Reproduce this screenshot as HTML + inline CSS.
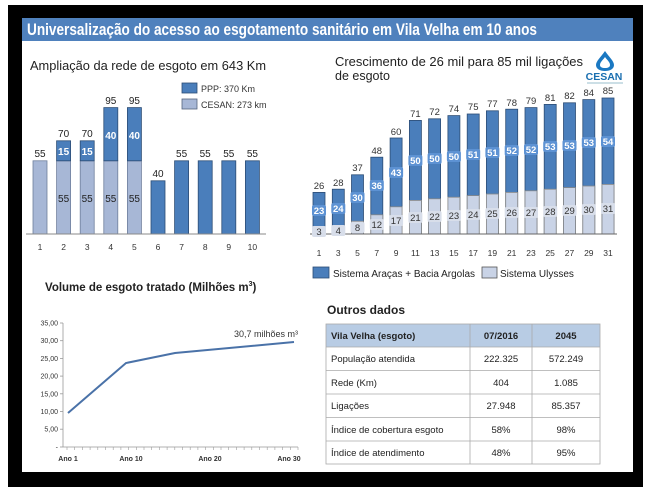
<!DOCTYPE html>
<html><head><meta charset="utf-8"><style>
html,body{margin:0;padding:0;background:#fff;width:653px;height:502px;overflow:hidden}
svg{display:block;font-family:"Liberation Sans",Arial,sans-serif}
</style></head><body>
<svg width="653" height="502" viewBox="0 0 653 502" xmlns="http://www.w3.org/2000/svg">
<rect x="8" y="5" width="635" height="482" fill="#000"/>
<rect x="22" y="18" width="611" height="454" fill="#fff"/>
<rect x="22" y="18" width="611" height="23" fill="#4f81bd"/>
<text x="27" y="35" font-size="17" font-weight="bold" fill="#fff" textLength="510" lengthAdjust="spacingAndGlyphs">Universalização do acesso ao esgotamento sanitário em Vila Velha em 10 anos</text>

<!-- Left chart -->
<text x="30" y="70" font-size="12.5" fill="#222" textLength="236" lengthAdjust="spacingAndGlyphs">Ampliação da rede de esgoto em 643 Km</text>
<rect x="182" y="83" width="15" height="10" fill="#4a7ebb" stroke="#2c4d75" stroke-width="0.8"/>
<text x="201" y="92" font-size="9" fill="#333">PPP: 370 Km</text>
<rect x="182" y="99" width="15" height="10" fill="#a7b7d6" stroke="#56657e" stroke-width="0.8"/>
<text x="201" y="108" font-size="9" fill="#333">CESAN: 273 km</text>
<g stroke-width="0.8">
<rect x="33" y="160.8" width="14" height="73.2" fill="#a7b7d6" stroke="#6f7f9c"/>
<rect x="56.6" y="160.8" width="14" height="73.2" fill="#a7b7d6" stroke="#6f7f9c"/><rect x="56.6" y="140.8" width="14" height="20" fill="#4a7ebb" stroke="#2c4d75"/>
<rect x="80.2" y="160.8" width="14" height="73.2" fill="#a7b7d6" stroke="#6f7f9c"/><rect x="80.2" y="140.8" width="14" height="20" fill="#4a7ebb" stroke="#2c4d75"/>
<rect x="103.8" y="160.8" width="14" height="73.2" fill="#a7b7d6" stroke="#6f7f9c"/><rect x="103.8" y="107.6" width="14" height="53.2" fill="#4a7ebb" stroke="#2c4d75"/>
<rect x="127.4" y="160.8" width="14" height="73.2" fill="#a7b7d6" stroke="#6f7f9c"/><rect x="127.4" y="107.6" width="14" height="53.2" fill="#4a7ebb" stroke="#2c4d75"/>
<rect x="151" y="180.8" width="14" height="53.2" fill="#4a7ebb" stroke="#2c4d75"/>
<rect x="174.6" y="160.8" width="14" height="73.2" fill="#4a7ebb" stroke="#2c4d75"/>
<rect x="198.2" y="160.8" width="14" height="73.2" fill="#4a7ebb" stroke="#2c4d75"/>
<rect x="221.8" y="160.8" width="14" height="73.2" fill="#4a7ebb" stroke="#2c4d75"/>
<rect x="245.4" y="160.8" width="14" height="73.2" fill="#4a7ebb" stroke="#2c4d75"/>
</g>
<line x1="26" y1="234" x2="266" y2="234" stroke="#888" stroke-width="1"/>
<g font-size="10" fill="#222" text-anchor="middle">
<text x="40" y="157">55</text><text x="63.6" y="137">70</text><text x="87.2" y="137">70</text><text x="110.8" y="104">95</text><text x="134.4" y="104">95</text>
<text x="158" y="177">40</text><text x="181.6" y="157">55</text><text x="205.2" y="157">55</text><text x="228.8" y="157">55</text><text x="252.4" y="157">55</text>
<text x="63.6" y="202">55</text><text x="87.2" y="202">55</text><text x="110.8" y="202">55</text><text x="134.4" y="202">55</text>
</g>
<g font-size="10" fill="#fff" text-anchor="middle" font-weight="bold">
<text x="63.6" y="155">15</text><text x="87.2" y="155">15</text><text x="110.8" y="139">40</text><text x="134.4" y="139">40</text>
</g>
<g font-size="8.5" fill="#333" text-anchor="middle">
<text x="40" y="250">1</text><text x="63.6" y="250">2</text><text x="87.2" y="250">3</text><text x="110.8" y="250">4</text><text x="134.4" y="250">5</text><text x="158" y="250">6</text><text x="181.6" y="250">7</text><text x="205.2" y="250">8</text><text x="228.8" y="250">9</text><text x="252.4" y="250">10</text>
</g>

<!-- Right chart -->
<text x="335" y="66" font-size="12.5" fill="#222" textLength="248" lengthAdjust="spacingAndGlyphs">Crescimento de 26 mil para 85 mil ligações</text>
<text x="335" y="80" font-size="12.5" fill="#222">de esgoto</text>
<path d="M605 51 C609 57 614 61 614 65 C614 69 610 71 605 71 C600 71 596 69 596 65 C596 61 601 57 605 51 Z" fill="#1a78c2"/>
<path d="M605 57 C607 60 610 62 610 65 C610 67 608 68 605 68 C602 68 600 67 600 65 C600 62 603 60 605 57 Z" fill="#fff"/>
<text x="604" y="80" font-size="10.5" font-weight="bold" fill="#1a6fb0" text-anchor="middle">CESAN</text>
<line x1="587" y1="83" x2="623" y2="83" stroke="#7ab" stroke-width="0.8"/>
<g id="rb" stroke-width="0.8" font-size="9.5" text-anchor="middle">
</g>
<g stroke-width="0.8">
<g transform="translate(319,0)"><rect x="-6" y="192.4" width="12" height="41.6" fill="#4a7ebb" stroke="#2c4d75"/><rect x="-6" y="229.2" width="12" height="4.8" fill="#c9d3e6" stroke="#888"/></g>
<g transform="translate(338.3,0)"><rect x="-6" y="189.2" width="12" height="44.8" fill="#4a7ebb" stroke="#2c4d75"/><rect x="-6" y="227.6" width="12" height="6.4" fill="#c9d3e6" stroke="#888"/></g>
<g transform="translate(357.5,0)"><rect x="-6" y="174.8" width="12" height="59.2" fill="#4a7ebb" stroke="#2c4d75"/><rect x="-6" y="221.2" width="12" height="12.8" fill="#c9d3e6" stroke="#888"/></g>
<g transform="translate(376.8,0)"><rect x="-6" y="157.2" width="12" height="76.8" fill="#4a7ebb" stroke="#2c4d75"/><rect x="-6" y="214.8" width="12" height="19.2" fill="#c9d3e6" stroke="#888"/></g>
<g transform="translate(396.1,0)"><rect x="-6" y="138" width="12" height="96" fill="#4a7ebb" stroke="#2c4d75"/><rect x="-6" y="206.8" width="12" height="27.2" fill="#c9d3e6" stroke="#888"/></g>
<g transform="translate(415.4,0)"><rect x="-6" y="120.4" width="12" height="113.6" fill="#4a7ebb" stroke="#2c4d75"/><rect x="-6" y="200.4" width="12" height="33.6" fill="#c9d3e6" stroke="#888"/></g>
<g transform="translate(434.6,0)"><rect x="-6" y="118.8" width="12" height="115.2" fill="#4a7ebb" stroke="#2c4d75"/><rect x="-6" y="198.8" width="12" height="35.2" fill="#c9d3e6" stroke="#888"/></g>
<g transform="translate(453.9,0)"><rect x="-6" y="115.6" width="12" height="118.4" fill="#4a7ebb" stroke="#2c4d75"/><rect x="-6" y="197.2" width="12" height="36.8" fill="#c9d3e6" stroke="#888"/></g>
<g transform="translate(473.2,0)"><rect x="-6" y="114" width="12" height="120" fill="#4a7ebb" stroke="#2c4d75"/><rect x="-6" y="195.6" width="12" height="38.4" fill="#c9d3e6" stroke="#888"/></g>
<g transform="translate(492.4,0)"><rect x="-6" y="110.8" width="12" height="123.2" fill="#4a7ebb" stroke="#2c4d75"/><rect x="-6" y="194" width="12" height="40" fill="#c9d3e6" stroke="#888"/></g>
<g transform="translate(511.7,0)"><rect x="-6" y="109.2" width="12" height="124.8" fill="#4a7ebb" stroke="#2c4d75"/><rect x="-6" y="192.4" width="12" height="41.6" fill="#c9d3e6" stroke="#888"/></g>
<g transform="translate(531,0)"><rect x="-6" y="107.6" width="12" height="126.4" fill="#4a7ebb" stroke="#2c4d75"/><rect x="-6" y="190.8" width="12" height="43.2" fill="#c9d3e6" stroke="#888"/></g>
<g transform="translate(550.2,0)"><rect x="-6" y="104.4" width="12" height="129.6" fill="#4a7ebb" stroke="#2c4d75"/><rect x="-6" y="189.2" width="12" height="44.8" fill="#c9d3e6" stroke="#888"/></g>
<g transform="translate(569.5,0)"><rect x="-6" y="102.8" width="12" height="131.2" fill="#4a7ebb" stroke="#2c4d75"/><rect x="-6" y="187.6" width="12" height="46.4" fill="#c9d3e6" stroke="#888"/></g>
<g transform="translate(588.8,0)"><rect x="-6" y="99.6" width="12" height="134.4" fill="#4a7ebb" stroke="#2c4d75"/><rect x="-6" y="186" width="12" height="48" fill="#c9d3e6" stroke="#888"/></g>
<g transform="translate(608,0)"><rect x="-6" y="98" width="12" height="136" fill="#4a7ebb" stroke="#2c4d75"/><rect x="-6" y="184.4" width="12" height="49.6" fill="#c9d3e6" stroke="#888"/></g>
</g>
<line x1="310" y1="234" x2="617" y2="234" stroke="#666" stroke-width="1"/>
<!-- dark label boxes -->
<g fill="#5d92d3">
<rect x="312" y="205" width="14" height="11" rx="2"/><rect x="331.3" y="203" width="14" height="11" rx="2"/><rect x="350.5" y="192" width="14" height="11" rx="2"/><rect x="369.8" y="180" width="14" height="11" rx="2"/><rect x="389.1" y="167" width="14" height="11" rx="2"/>
<rect x="408.4" y="155" width="14" height="11" rx="2"/><rect x="427.6" y="153" width="14" height="11" rx="2"/><rect x="446.9" y="151" width="14" height="11" rx="2"/><rect x="466.2" y="149" width="14" height="11" rx="2"/><rect x="485.4" y="147" width="14" height="11" rx="2"/>
<rect x="504.7" y="145" width="14" height="11" rx="2"/><rect x="524" y="144" width="14" height="11" rx="2"/><rect x="543.2" y="141" width="14" height="11" rx="2"/><rect x="562.5" y="140" width="14" height="11" rx="2"/><rect x="581.8" y="137" width="14" height="11" rx="2"/><rect x="601" y="136" width="14" height="11" rx="2"/>
</g>
<g font-size="9.5" fill="#fff" text-anchor="middle" font-weight="bold">
<text x="319" y="214">23</text><text x="338.3" y="212">24</text><text x="357.5" y="201">30</text><text x="376.8" y="189">36</text><text x="396.1" y="176">43</text>
<text x="415.4" y="164">50</text><text x="434.6" y="162">50</text><text x="453.9" y="160">50</text><text x="473.2" y="158">51</text><text x="492.4" y="156">51</text>
<text x="511.7" y="154">52</text><text x="531" y="153">52</text><text x="550.2" y="150">53</text><text x="569.5" y="149">53</text><text x="588.8" y="146">53</text><text x="608" y="145">54</text>
</g>
<g fill="#d8deea">
<rect x="312" y="226" width="14" height="11" rx="2"/><rect x="331.3" y="225" width="14" height="11" rx="2"/><rect x="350.5" y="222" width="14" height="11" rx="2"/><rect x="369.8" y="219" width="14" height="11" rx="2"/><rect x="389.1" y="215" width="14" height="11" rx="2"/>
<rect x="408.4" y="212" width="14" height="11" rx="2"/><rect x="427.6" y="211" width="14" height="11" rx="2"/><rect x="446.9" y="210" width="14" height="11" rx="2"/><rect x="466.2" y="209" width="14" height="11" rx="2"/><rect x="485.4" y="208" width="14" height="11" rx="2"/>
<rect x="504.7" y="207" width="14" height="11" rx="2"/><rect x="524" y="207" width="14" height="11" rx="2"/><rect x="543.2" y="206" width="14" height="11" rx="2"/><rect x="562.5" y="205" width="14" height="11" rx="2"/><rect x="581.8" y="204" width="14" height="11" rx="2"/><rect x="601" y="203" width="14" height="11" rx="2"/>
</g>
<g font-size="9.5" fill="#333" text-anchor="middle">
<text x="319" y="235">3</text><text x="338.3" y="234">4</text><text x="357.5" y="231">8</text><text x="376.8" y="228">12</text><text x="396.1" y="224">17</text>
<text x="415.4" y="221">21</text><text x="434.6" y="220">22</text><text x="453.9" y="219">23</text><text x="473.2" y="218">24</text><text x="492.4" y="217">25</text>
<text x="511.7" y="216">26</text><text x="531" y="216">27</text><text x="550.2" y="215">28</text><text x="569.5" y="214">29</text><text x="588.8" y="213">30</text><text x="608" y="212">31</text>
</g>
<g font-size="9.5" fill="#333" text-anchor="middle">
<text x="319" y="189">26</text><text x="338.3" y="186">28</text><text x="357.5" y="171">37</text><text x="376.8" y="154">48</text><text x="396.1" y="135">60</text>
<text x="415.4" y="117">71</text><text x="434.6" y="115">72</text><text x="453.9" y="112">74</text><text x="473.2" y="110">75</text><text x="492.4" y="107">77</text>
<text x="511.7" y="106">78</text><text x="531" y="104">79</text><text x="550.2" y="101">81</text><text x="569.5" y="99">82</text><text x="588.8" y="96">84</text><text x="608" y="94">85</text>
</g>
<g font-size="8.5" fill="#333" text-anchor="middle">
<text x="319" y="256">1</text><text x="338.3" y="256">3</text><text x="357.5" y="256">5</text><text x="376.8" y="256">7</text><text x="396.1" y="256">9</text><text x="415.4" y="256">11</text><text x="434.6" y="256">13</text><text x="453.9" y="256">15</text><text x="473.2" y="256">17</text><text x="492.4" y="256">19</text><text x="511.7" y="256">21</text><text x="531" y="256">23</text><text x="550.2" y="256">25</text><text x="569.5" y="256">27</text><text x="588.8" y="256">29</text><text x="608" y="256">31</text>
</g>
<rect x="313" y="267" width="16" height="11" fill="#4a7ebb" stroke="#2c4d75" stroke-width="0.8"/>
<text x="333" y="277" font-size="10" fill="#222">Sistema Araças + Bacia Argolas</text>
<rect x="482" y="267" width="15" height="11" fill="#c9d3e6" stroke="#555" stroke-width="0.8"/>
<text x="500" y="277" font-size="10" fill="#222">Sistema Ulysses</text>

<!-- Line chart -->
<text x="45" y="291" font-size="11.5" font-weight="bold" fill="#222">Volume de esgoto tratado (Milhões m<tspan font-size="7" dy="-5">3</tspan><tspan dy="5">)</tspan></text>
<g font-size="7" fill="#333" text-anchor="end">
<text x="58" y="325.5">35,00</text><text x="58" y="343.2">30,00</text><text x="58" y="360.9">25,00</text><text x="58" y="378.6">20,00</text><text x="58" y="396.3">15,00</text><text x="58" y="414">10,00</text><text x="58" y="431.7">5,00</text><text x="58" y="449.5">-</text>
</g>
<g stroke="#999" stroke-width="0.8">
<line x1="63" y1="323" x2="63" y2="447"/><line x1="63" y1="447" x2="298" y2="447"/>
<line x1="60" y1="323" x2="63" y2="323"/><line x1="60" y1="340.7" x2="63" y2="340.7"/><line x1="60" y1="358.4" x2="63" y2="358.4"/><line x1="60" y1="376.1" x2="63" y2="376.1"/><line x1="60" y1="393.8" x2="63" y2="393.8"/><line x1="60" y1="411.5" x2="63" y2="411.5"/><line x1="60" y1="429.2" x2="63" y2="429.2"/><line x1="60" y1="447" x2="63" y2="447"/>
</g>
<g stroke="#999" stroke-width="0.6">
<path d="M67 447v3M74.7 447v3M82.4 447v3M90.1 447v3M97.8 447v3M105.5 447v3M113.2 447v3M120.9 447v3M128.6 447v3M136.3 447v3M144 447v3M151.7 447v3M159.4 447v3M167.1 447v3M174.8 447v3M182.5 447v3M190.2 447v3M197.9 447v3M205.6 447v3M213.3 447v3M221 447v3M228.7 447v3M236.4 447v3M244.1 447v3M251.8 447v3M259.5 447v3M267.2 447v3M274.9 447v3M282.6 447v3M290.3 447v3M298 447v3"/>
</g>
<polyline points="68,413 126,363 175,353 294,342" fill="none" stroke="#4a72a8" stroke-width="2"/>
<text x="234" y="337" font-size="9" fill="#333">30,7 milhões m³</text>
<g font-size="7" fill="#333" text-anchor="middle" font-weight="bold">
<text x="68" y="461">Ano 1</text><text x="131" y="461">Ano 10</text><text x="210" y="461">Ano 20</text><text x="289" y="461">Ano 30</text>
</g>

<!-- Table -->
<text x="327" y="314" font-size="12" font-weight="bold" fill="#222">Outros dados</text>
<rect x="326" y="324" width="274" height="23" fill="#b8cce4"/>
<g stroke="#aaa" stroke-width="0.8" fill="none">
<rect x="326" y="324" width="274" height="140"/>
<line x1="470" y1="324" x2="470" y2="464"/><line x1="532" y1="324" x2="532" y2="464"/>
<line x1="326" y1="347" x2="600" y2="347"/><line x1="326" y1="370.5" x2="600" y2="370.5"/><line x1="326" y1="394" x2="600" y2="394"/><line x1="326" y1="417.5" x2="600" y2="417.5"/><line x1="326" y1="441" x2="600" y2="441"/>
</g>
<g font-size="9.5" fill="#222">
<text x="331" y="339" font-weight="bold">Vila Velha (esgoto)</text>
<text x="331" y="362">População atendida</text>
<text x="331" y="386">Rede (Km)</text>
<text x="331" y="409">Ligações</text>
<text x="331" y="433">Índice de cobertura esgoto</text>
<text x="331" y="456">Índice de atendimento</text>
</g>
<g font-size="9.5" fill="#222" text-anchor="middle">
<text x="501" y="339" font-weight="bold">07/2016</text><text x="566" y="339" font-weight="bold">2045</text>
<text x="501" y="362">222.325</text><text x="566" y="362">572.249</text>
<text x="501" y="386">404</text><text x="566" y="386">1.085</text>
<text x="501" y="409">27.948</text><text x="566" y="409">85.357</text>
<text x="501" y="433">58%</text><text x="566" y="433">98%</text>
<text x="501" y="456">48%</text><text x="566" y="456">95%</text>
</g>
</svg>
</body></html>
